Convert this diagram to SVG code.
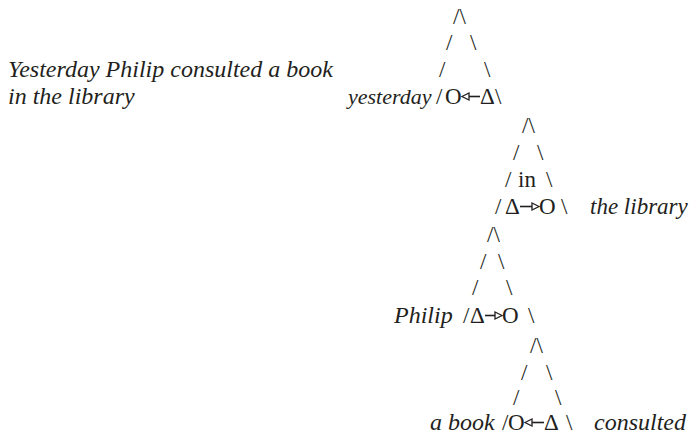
<svg xmlns="http://www.w3.org/2000/svg" width="690" height="435" viewBox="0 0 690 435">
<style>
text{font-family:"Liberation Serif","Times New Roman",serif;font-size:23px;fill:#231f20}
.i{font-style:italic}
.big{font-size:24px}
.ar line{stroke:#231f20;stroke-width:1.6}
.ar polygon{fill:#fff;stroke:#231f20;stroke-width:1.3}
</style>
<rect width="690" height="435" fill="#fff"/>
<g id="sentence">
<text class="i big" x="8" y="77">Yesterday Philip consulted a book</text>
<text class="i big" x="8" y="104">in the library</text>
</g>
<g id="connectors">
<text x="453" y="24">/\</text>
<text x="446" y="50">/</text><text x="470" y="50">\</text>
<text x="439" y="77">/</text><text x="484" y="77">\</text>
<text x="522" y="133">/\</text>
<text x="513" y="160">/</text><text x="537" y="160">\</text>
<text x="487" y="242">/\</text>
<text x="480" y="269">/</text><text x="498" y="269">\</text>
<text x="472" y="295">/</text><text x="506" y="295">\</text>
<text x="530" y="353">/\</text>
<text x="521" y="380">/</text><text x="546" y="380">\</text>
<text x="513" y="405">/</text><text x="555" y="405">\</text>
</g>
<g id="node-yesterday">
<text class="i" x="348" y="104" style="font-size:22px">yesterday</text>
<text x="436" y="104">/</text>
<text x="445" y="104">O</text>
<g class="ar"><line x1="468" y1="96.5" x2="480" y2="96.5"/><polygon points="462,96.5 469,93 469,100"/></g>
<text x="480" y="104">Δ</text>
<text x="495" y="104">\</text>
</g>
<g id="node-in">
<text x="505" y="187">/</text>
<text x="518" y="187">in</text>
<text x="546" y="187">\</text>
<text x="495" y="214">/</text>
<text x="505" y="214">Δ</text>
<g class="ar"><line x1="520" y1="206.5" x2="532" y2="206.5"/><polygon points="539,206.5 532,203 532,210"/></g>
<text x="539" y="214">O</text>
<text x="561" y="214">\</text>
<text class="i" x="590" y="214">the library</text>
</g>
<g id="node-philip">
<text class="i big" x="394" y="323">Philip</text>
<text x="463" y="323">/</text>
<text x="470" y="323">Δ</text>
<g class="ar"><line x1="485" y1="315.5" x2="495" y2="315.5"/><polygon points="502,315.5 495,312 495,319"/></g>
<text x="502" y="323">O</text>
<text x="528" y="323">\</text>
</g>
<g id="node-book">
<text class="i big" x="430" y="430">a book</text>
<text x="502" y="430">/</text>
<text x="508" y="430">O</text>
<g class="ar"><line x1="531" y1="422.5" x2="544" y2="422.5"/><polygon points="525,422.5 532,419 532,426"/></g>
<text x="544" y="430">Δ</text>
<text x="566" y="430">\</text>
<text class="i big" x="594" y="430">consulted</text>
</g>
</svg>
